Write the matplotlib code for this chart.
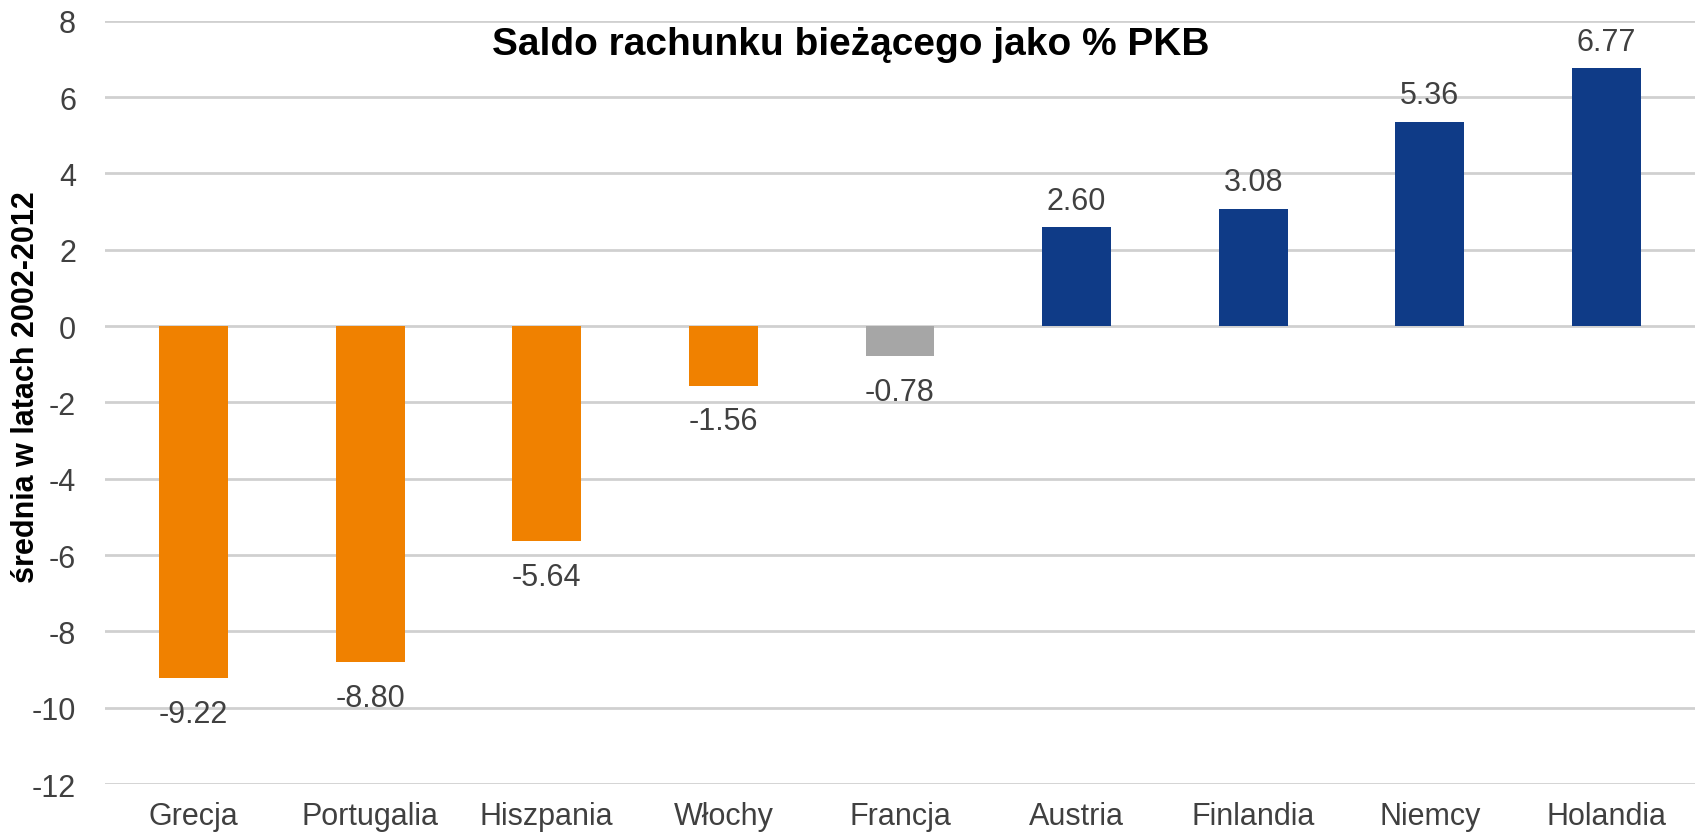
import matplotlib
matplotlib.use("Agg")
import matplotlib.pyplot as plt

# dane: saldo rachunku bieżącego jako % PKB (średnia 2002-2012)
countries = ["Grecja", "Portugalia", "Hiszpania", "Włochy", "Francja",
             "Austria", "Finlandia", "Niemcy", "Holandia"]
values = [-9.22, -8.80, -5.64, -1.56, -0.78, 2.60, 3.08, 5.36, 6.77]
groups = ["deficyt", "deficyt", "deficyt", "deficyt", "neutral",
          "nadwyzka", "nadwyzka", "nadwyzka", "nadwyzka"]
y_ticks = [-12, -10, -8, -6, -4, -2, 0, 2, 4, 6, 8]

COLORS = {"deficyt": "#F08100", "neutral": "#A6A6A6", "nadwyzka": "#0F3B87"}

plt.rcParams['font.family'] = ['Liberation Sans', 'DejaVu Sans']

fig = plt.figure(figsize=(16.98, 8.37), dpi=100)
ax = fig.add_axes([0.062, 0.062, 0.936, 0.912])

x = range(len(countries))
bars = ax.bar(x, values, width=0.39, color=[COLORS[g] for g in groups], zorder=3)

# etykiety wartości
for rect, v in zip(bars, values):
    cx = rect.get_x() + rect.get_width() / 2
    if v >= 0:
        ax.annotate(f"{v:.2f}", xy=(cx, v), xytext=(0, 8), textcoords='offset points',
                    ha='center', va='bottom', fontsize=22, color='#404040')
    else:
        ax.annotate(f"{v:.2f}", xy=(cx, v), xytext=(0, -15), textcoords='offset points',
                    ha='center', va='top', fontsize=22, color='#404040')

ax.set_xlim(-0.5, len(countries) - 0.5)
ax.set_ylim(-12, 8)
ax.set_yticks(y_ticks)
ax.set_yticklabels([str(t) for t in y_ticks], fontsize=22, color='#404040')
ax.set_xticks(list(x))
ax.set_xticklabels(countries, fontsize=22, color='#404040')
ax.tick_params(axis='both', length=0)
ax.tick_params(axis='y', pad=21)
ax.tick_params(axis='x', pad=12)

ax.grid(axis='y', color='#D0D0D0', linewidth=2, zorder=0)
for s in ax.spines.values():
    s.set_visible(False)

fig.text(26 / 1698, 1 - 387 / 837, "średnia w latach 2002-2012", rotation=90,
         ha='center', va='center', fontsize=22, fontweight='bold', color='black')
ax.text(3.72, 7.4, "Saldo rachunku bieżącego jako % PKB",
        ha='center', va='center', fontsize=28, fontweight='bold', color='black')

fig.savefig("out.png", dpi=100)
